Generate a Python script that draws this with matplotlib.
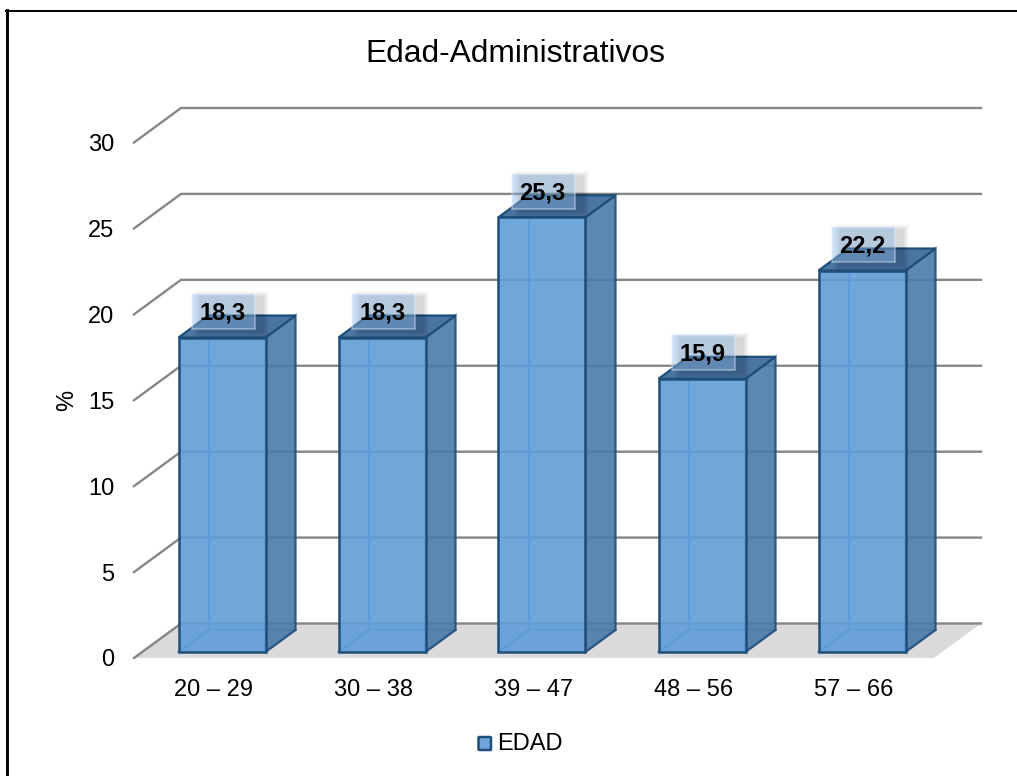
import matplotlib
matplotlib.use('Agg')
import matplotlib.pyplot as plt
from matplotlib.lines import Line2D
from matplotlib.patches import FancyBboxPatch, Polygon, Rectangle

categorias = ['20 – 29', '30 – 38', '39 – 47', '48 – 56', '57 – 66']
valores = [18.3, 18.3, 25.3, 15.9, 22.2]
etiquetas = ['18,3', '18,3', '25,3', '15,9', '22,2']
ticks_y = [0, 5, 10, 15, 20, 25, 30]

plt.rcParams['font.family'] = ['Liberation Sans', 'DejaVu Sans']

W, H = 1017, 776
fig = plt.figure(figsize=(W / 100, H / 100), dpi=100)
# el plano frontal del grafico va de (134,658) a (934,142.5) en pixeles
ax = fig.add_axes([134 / W, 1 - 658 / H, 800 / W, 515.5 / H])
ax.set_xlim(0, 5)
ax.set_ylim(0, 30)
for s in ax.spines.values():
    s.set_visible(False)

# pixeles por unidad de datos
px = 160
py = 515.5 / 30

# profundidad del efecto 3D
dx = 47 / px
dy = 34.5 / py
bar_w = 87 / px
bar_dx0 = 8 / px
bar_dy0 = 6 / py
bar_dx = 30 / px
bar_dy = 22 / py

# suelo
ax.add_patch(Polygon([(0, 0), (dx, dy), (5 + dx, dy), (5, 0)], closed=True,
                     fc='#dbd9da', ec='none', clip_on=False, zorder=1))

# lineas de la rejilla
for t in ticks_y:
    ax.plot([0, dx, 5 + dx], [t, t + dy, t + dy], color='#868686', lw=1.7,
            clip_on=False, zorder=2, solid_joinstyle='miter')

borde = '#1f4e79'
for i, v in enumerate(valores):
    x0 = i + 0.5 - bar_w / 2 + bar_dx0
    x1 = x0 + bar_w
    y0 = bar_dy0
    y1 = bar_dy0 + v
    # caras traseras, se ven a traves de la frontal
    ax.plot([x0 + bar_dx, x0 + bar_dx], [y0 + bar_dy, y1 + bar_dy], color='#4f8cc7', lw=1.6,
            clip_on=False, zorder=3)
    ax.plot([x0, x0 + bar_dx, x1 + bar_dx], [y0, y0 + bar_dy, y0 + bar_dy], color='#4f8cc7',
            lw=1.6, clip_on=False, zorder=3)
    # lateral
    ax.add_patch(Polygon([(x1, y0), (x1 + bar_dx, y0 + bar_dy), (x1 + bar_dx, y1 + bar_dy), (x1, y1)],
                         closed=True, fc='#4a7aa8', ec=borde, lw=1.6, alpha=0.9, clip_on=False, zorder=4))
    # tapa
    ax.add_patch(Polygon([(x0, y1), (x0 + bar_dx, y1 + bar_dy), (x1 + bar_dx, y1 + bar_dy), (x1, y1)],
                         closed=True, fc='#4a74a2', ec=borde, lw=1.6, clip_on=False, zorder=4))
    # frontal
    ax.add_patch(Rectangle((x0, y0), bar_w, v, fc='#5f9ed8', ec='none', alpha=0.9,
                           clip_on=False, zorder=5))
    ax.add_patch(Rectangle((x0, y0), bar_w, v, fc='none', ec=borde, lw=1.8,
                           clip_on=False, zorder=6))

    # sombra suave y caja de la etiqueta
    bw = 63 / px
    bh = 35 / py
    bx = i + 0.5 + 9.5 / px - bw / 2
    by = y1 + 8.5 / py
    for k in range(1, 9):
        m = (9 - k) * 0.7
        ax.add_patch(Rectangle((bx + (8 - m) / px, by + (-3 - m) / py), bw + (2 * m) / px, bh + (2 * m) / py,
                               fc='black', ec='none', alpha=0.02, clip_on=False, zorder=7))
    ax.add_patch(Rectangle((bx, by), bw, bh, fc='#8fbbe8', ec='#e6eff8', lw=1.2, alpha=0.45,
                           clip_on=False, zorder=8))
    ax.text(bx + bw / 2 - 1 / px, by + bh / 2 - 1.5 / py, etiquetas[i], ha='center', va='center', fontsize=17,
            fontweight='bold', color='black', zorder=9, clip_on=False)

ax.set_xticks([i + 0.5 for i in range(5)])
ax.set_xticklabels(categorias)
ax.set_yticks(ticks_y)
ax.tick_params(axis='both', length=0, labelsize=17, colors='black')
ax.tick_params(axis='x', pad=15)
ax.tick_params(axis='y', pad=14)
ax.set_ylabel('%', fontsize=17, labelpad=7)

fig.text(515 / W, 1 - 54.5 / H, 'Edad-Administrativos', ha='center', va='center', fontsize=22.9)

# leyenda
fig.add_artist(FancyBboxPatch((478.5 / W, 1 - 750 / H), 12.5 / W, 13 / H, transform=fig.transFigure,
                              boxstyle='round,pad=0,rounding_size=0.001', fc='#6fa3d9', ec=borde, lw=1.8))
fig.text(497 / W, 1 - 744 / H, 'EDAD', ha='left', va='center', fontsize=17)

# marco exterior, solo arriba y a la izquierda
fig.add_artist(Line2D([7 / W, 7 / W], [0, 1 - 10 / H], transform=fig.transFigure, color='black', lw=2.1))
fig.add_artist(Line2D([6 / W, 1], [1 - 11 / H, 1 - 11 / H], transform=fig.transFigure, color='black', lw=1.4))

fig.savefig('out.png', dpi=100)
